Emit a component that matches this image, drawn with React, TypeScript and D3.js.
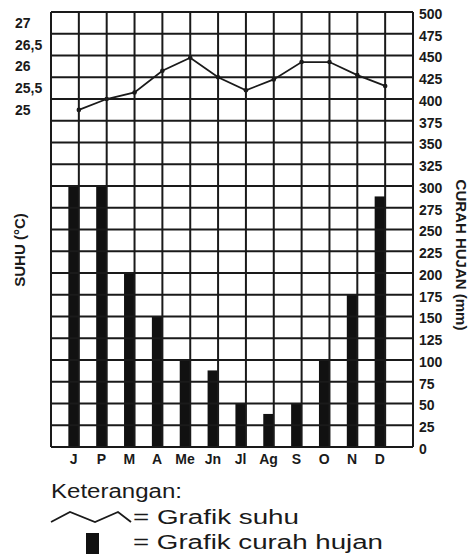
import React from "react";
import * as d3 from "d3";

const months = ["J", "P", "M", "A", "Me", "Jn", "Jl", "Ag", "S", "O", "N", "D"];
const temperature = [25.0, 25.25, 25.4, 25.9, 26.2, 25.75, 25.45, 25.7, 26.1, 26.1, 25.8, 25.55];
const rainfall = [300, 300, 200, 150, 100, 88, 50, 38, 50, 100, 175, 288];
const rainTicks = d3.range(0, 501, 25);
const tempTicks = [25, 25.5, 26, 26.5, 27];
const tempTickLabels = ["25", "25,5", "26", "26,5", "27"];

const W = 473;
const H = 554;
const xLeft = 51;
const xRight = 413;
const yTop = 12;
const yBottom = 447;
const col = (xRight - xLeft) / 13;
const barW = 10.5;
const ink = "#1a1a1a";
const font = "'Liberation Sans', Arial, sans-serif";

export default function App() {
  const x = d3.scalePoint<string>().domain(months).range([xLeft + col, xLeft + 12 * col]);
  const yRain = d3.scaleLinear().domain([0, 500]).range([yBottom, yTop]);
  const yTemp = d3.scaleLinear().domain([25, 27]).range([yRain(387.5), yRain(487.5)]);
  const vLines = d3.range(0, 14).map((k) => xLeft + k * col);
  const line = d3
    .line<number>()
    .x((_, i) => x(months[i]) as number)
    .y((d) => yTemp(d));

  return (
    <div style={{ position: "absolute", left: 0, top: 0 }}>
      <svg width={W} height={H} style={{ display: "block", background: "#fff" }}>
        {/* bars */}
        {rainfall.map((v, i) => (
          <rect
            key={"b" + i}
            x={(x(months[i]) as number) - barW}
            y={yRain(v)}
            width={barW}
            height={yBottom - yRain(v)}
            fill="#111"
          />
        ))}
        {/* horizontal grid */}
        {rainTicks.map((t) => (
          <line key={"h" + t} x1={xLeft} x2={xRight} y1={yRain(t)} y2={yRain(t)} stroke={ink} strokeWidth={2} />
        ))}
        {/* vertical grid */}
        {vLines.map((vx, k) => (
          <line key={"v" + k} x1={vx} x2={vx} y1={yTop} y2={yBottom} stroke={ink} strokeWidth={2} />
        ))}
        {/* temperature line */}
        <path d={line(temperature) || ""} fill="none" stroke={ink} strokeWidth={1.8} />
        {temperature.map((t, i) => (
          <circle key={"c" + i} cx={x(months[i]) as number} cy={yTemp(t)} r={2.3} fill={ink} />
        ))}
        {/* left ticks */}
        {tempTicks.map((t, i) => (
          <text
            key={"lt" + i}
            x={15}
            y={yTemp(t)}
            dy="0.35em"
            fontFamily={font}
            fontWeight="bold"
            fontSize={14}
            fill={ink}
          >
            {tempTickLabels[i]}
          </text>
        ))}
        {/* right ticks */}
        {rainTicks.map((t) => (
          <text
            key={"rt" + t}
            x={419}
            y={yRain(t) + 2}
            dy="0.35em"
            fontFamily={font}
            fontWeight="bold"
            fontSize={14}
            fill={ink}
          >
            {t}
          </text>
        ))}
        {/* month labels */}
        {months.map((m) => (
          <text
            key={"m" + m}
            x={(x(m) as number) - barW / 2}
            y={464}
            textAnchor="middle"
            fontFamily={font}
            fontWeight="bold"
            fontSize={14}
            fill={ink}
          >
            {m}
          </text>
        ))}
        {/* axis titles */}
        <text
          transform="translate(25,250) rotate(-90)"
          textAnchor="middle"
          fontFamily={font}
          fontWeight="bold"
          fontSize={15}
          fill={ink}
        >
          SUHU (°C)
        </text>
        <text
          transform="translate(456,255) rotate(90)"
          textAnchor="middle"
          fontFamily={font}
          fontWeight="bold"
          fontSize={15}
          fill={ink}
        >
          CURAH HUJAN (mm)
        </text>
        {/* legend */}
        <text x={51} y={498} fontFamily={font} fontSize={20} fill={ink} textLength={131} lengthAdjust="spacingAndGlyphs">
          Keterangan:
        </text>
        <path d="M51,522 L70,512 L95,522 L118,512 L131,522" fill="none" stroke={ink} strokeWidth={1.8} />
        <text x={133} y={524} fontFamily={font} fontSize={20} fill={ink} textLength={166} lengthAdjust="spacingAndGlyphs">
          = Grafik suhu
        </text>
        <rect x={86} y={533} width={13} height={21} fill="#111" />
        <text x={133} y={549} fontFamily={font} fontSize={20} fill={ink} textLength={250} lengthAdjust="spacingAndGlyphs">
          = Grafik curah hujan
        </text>
      </svg>
    </div>
  );
}
